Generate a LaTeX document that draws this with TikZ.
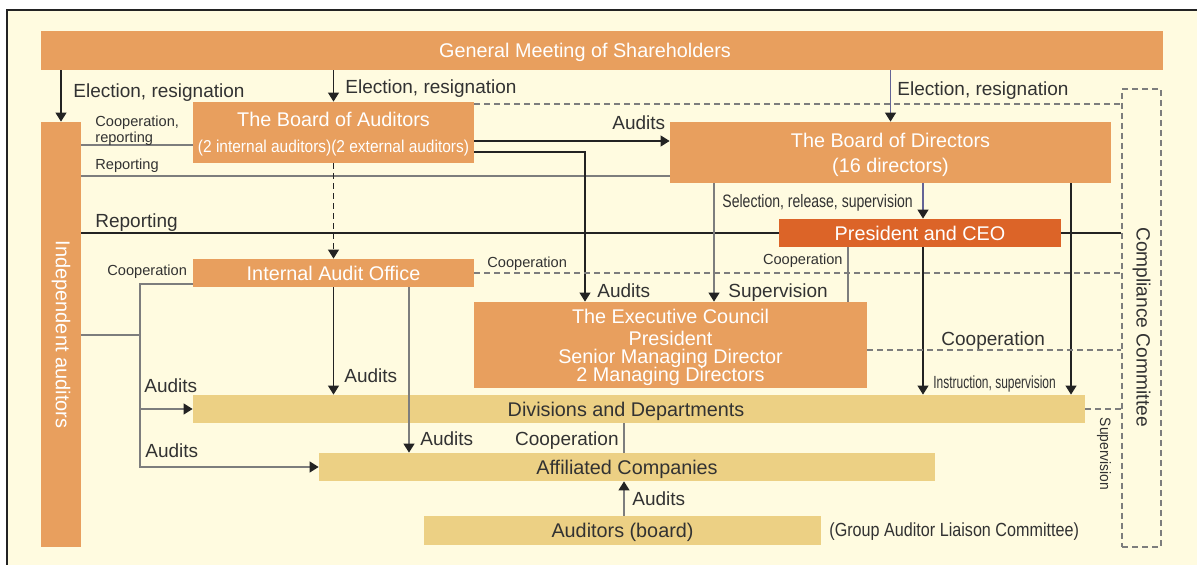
\documentclass[tikz,border=0pt]{standalone}
\usepackage{fontspec}
\setmainfont{Liberation Sans}
\usetikzlibrary{arrows.meta}
\definecolor{cream}{RGB}{255,251,224}
\definecolor{boxorange}{RGB}{232,159,94}
\definecolor{ceored}{RGB}{220,100,40}
\definecolor{boxyellow}{RGB}{236,208,132}
\definecolor{txtgray}{RGB}{50,50,50}
\definecolor{linegray}{RGB}{125,125,125}
\definecolor{elecblue}{RGB}{100,100,150}
\definecolor{tipcol}{RGB}{35,35,35}
\newcommand{\boxfont}{\fontsize{9.9}{12}\selectfont}
\newcommand{\excfont}{\fontsize{9.9}{9}\selectfont\lineskiplimit=-5pt\relax}
\newcommand{\lblfont}{\fontsize{9.5}{11}\selectfont}
\newcommand{\smlfont}{\fontsize{7.3}{6.5}\selectfont}
\newcommand{\squeezetext}[2]{\scalebox{#1}[1]{#2}}

\begin{document}
\begin{tikzpicture}[x=0.5pt, y=-0.5pt,
    obox/.style={fill=boxorange, text=white, font=\boxfont, inner sep=0pt, align=center, text depth=0pt},
    ybox/.style={fill=boxyellow, text=txtgray, font=\boxfont, inner sep=0pt, text depth=0pt},
    lbl/.style={text=txtgray, font=\lblfont, inner sep=0pt, anchor=base west},
    slbl/.style={lbl, font=\smlfont},
    arr/.style={-{Triangle[length=4.5pt, width=5.5pt, color=tipcol]}},
    bline/.style={draw=tipcol, line width=0.55pt},
    gline/.style={draw=linegray, line width=0.65pt},
    eline/.style={draw=elecblue, line width=0.6pt},
    dline/.style={draw=linegray, line width=0.65pt, dash pattern=on 3pt off 2pt},
    ddline/.style={draw=tipcol, line width=0.55pt, dash pattern=on 3pt off 2pt}]
    \useasboundingbox (0,0) rectangle (1197,565);
    % Background
    \fill[cream] (7,10) rectangle (1197,565);
    \draw[line width=1pt, tipcol] (7,565) -- (7,10) -- (1197,10);

    % Boxes
    \node[obox, minimum width=561pt, minimum height=19.5pt,
        label={[text=white, font=\boxfont, text depth=0pt, xshift=-8.5pt]center:General Meeting of Shareholders}] (gm) at (602,50.5) {};
    \node[fill=boxorange, text=white, inner sep=0pt, minimum width=20pt, minimum height=212.5pt] (indaud) at (61,334.5)
        {\rotatebox{-90}{\fontsize{10}{12}\selectfont Independent auditors}};
    \node[obox, minimum width=140.5pt, minimum height=30.5pt] (boa) at (333.5,132.5)
        {The Board of Auditors\\[1pt]\squeezetext{0.9}{\fontsize{8.6}{9}\selectfont (2 internal auditors)(2 external auditors)}};
    \node[obox, minimum width=220.5pt, minimum height=30.5pt] (bod) at (890.5,152.5)
        {The Board of Directors\\[0.5pt](16 directors)};
    \node[obox, fill=ceored, minimum width=141pt, minimum height=14pt] (ceo) at (920,233) {President and CEO};
    \node[obox, minimum width=140.5pt, minimum height=14pt] (iao) at (333.5,273) {Internal Audit Office};
    \node[obox, font=\excfont, minimum width=196.5pt, minimum height=43pt] (exc) at (670.5,345)
        {The Executive Council\\[2pt]President\\Senior Managing Director\\2 Managing Directors};
    \node[ybox, minimum width=446pt, minimum height=14pt,
        label={[text=txtgray, font=\boxfont, text depth=0pt, xshift=-6.5pt]center:Divisions and Departments}] (div) at (639,409) {};
    \node[ybox, minimum width=308pt, minimum height=14pt] (aff) at (627,467) {Affiliated Companies};
    \node[ybox, minimum width=198.5pt, minimum height=14.5pt] (aub) at (622.5,530.5) {Auditors (board)};
    \node[dline, minimum width=19.5pt, minimum height=229pt, inner sep=0pt,
        label={[text=txtgray, font=\fontsize{9.6}{11}\selectfont, yshift=-4.5pt]center:\rotatebox{-90}{Compliance Committee}}] (comp) at (1141.5,318) {};

    % Election
    \draw[bline, arr] (gm.south -| indaud.north) -- (indaud.north);
    \draw[bline, arr] (gm.south -| boa.north) -- (boa.north);
    \draw[eline, arr] (gm.south -| bod.north) -- (bod.north);
    \node[lbl] (lElecA) at (73,98) {Election, resignation};
    \node[lbl] (lElecB) at (345,94) {Election, resignation};
    \node[lbl] (lElecC) at (897,96) {Election, resignation};

    % Board of Auditors
    \draw[dline] (boa.east |- 0,104) -- (comp.west |- 0,104);
    \draw[gline] (indaud.east |- 0,145) -- (boa.west |- 0,145);
    \draw[gline] (indaud.east |- 0,176) -- (bod.west |- 0,176);
    \draw[bline, arr] (boa.east |- 0,141) -- (bod.west |- 0,141);
    \draw[bline, arr] (boa.east |- 0,152) -| (585,0 |- exc.north);
    \draw[ddline, arr] (boa.south) -- (iao.north);
    \node[slbl, anchor=north west, align=left] (lCoopRep) at (95,116) {Cooperation,\\reporting};
    \node[slbl] (lRepA) at (95,170) {Reporting};
    \node[lbl] (lAudA) at (612,130) {Audits};
    \node[lbl] (lAudB) at (597,298) {Audits};

    % Board of Directors and President
    \draw[bline] (indaud.east |- ceo.west) -- (ceo.west);
    \draw[bline] (ceo.east) -- (ceo.east -| comp.west);
    \draw[eline, arr] (923,0 |- bod.south) -- (923,0 |- ceo.north);
    \draw[gline, arr] (714,0 |- bod.south) -- (714,0 |- exc.north);
    \draw[bline, arr] (1071,0 |- bod.south) -- (1071,0 |- div.north);
    \draw[bline, arr] (923,0 |- ceo.south) -- (923,0 |- div.north);
    \draw[gline] (848,0 |- ceo.south) -- (848,0 |- exc.north);
    \node[lbl] (lRepB) at (95,228) {Reporting};
    \node[lbl, font=\fontsize{9}{10}\selectfont] (lSel) at (722,208) {\squeezetext{0.78}{Selection, release, supervision}};
    \node[slbl, anchor=base east] (lCoopA) at (843,265) {Cooperation};
    \node[lbl] (lSupA) at (728,298) {Supervision};
    \node[lbl, font=\fontsize{8.8}{10}\selectfont] (lInst) at (933,389) {\squeezetext{0.68}{Instruction, supervision}};

    % Compliance Committee
    \draw[dline] (iao.east) -- (iao.east -| comp.west);
    \draw[dline] (exc.east |- 0,350) -- (comp.west |- 0,350);
    \draw[dline] (div.east) -- (div.east -| comp.west);
    \node[slbl] (lCoopB) at (487,268) {Cooperation};
    \node[lbl] (lCoopD) at (941,346) {Cooperation};
    \node[slbl, anchor=center, font=\fontsize{7.5}{9}\selectfont] (lSupB) at (1104,454) {\rotatebox{-90}{\squeezetext{0.92}{Supervision}}};

    % Audits of divisions and affiliates
    \draw[gline] (indaud.east |- 0,335) -- (140,335);
    \draw[gline, arr] (iao.west |- 0,284) -| (140,0 |- aff.west) -- (aff.west);
    \draw[gline, arr] (140,0 |- div.west) -- (div.west);
    \draw[bline, arr] (iao.south) -- (iao.south |- div.north);
    \draw[gline, arr] (409,0 |- iao.south) -- (409,0 |- aff.north);
    \draw[gline] (624,0 |- div.south) -- (624,0 |- aff.north);
    \draw[gline, arr] (aub.north -| 624,0) -- (aff.south -| 624,0);
    \node[slbl] (lCoopC) at (107,276) {Cooperation};
    \node[lbl] (lAudC) at (344,383) {Audits};
    \node[lbl] (lAudD) at (144,393) {Audits};
    \node[lbl] (lAudE) at (420,446) {Audits};
    \node[lbl, anchor=base east] (lCoopE) at (619,446) {Cooperation};
    \node[lbl] (lAudF) at (145,458) {Audits};
    \node[lbl] (lAudG) at (632,506) {Audits};
    \node[lbl] (lGroup) at (829,537) {\squeezetext{0.85}{(Group Auditor Liaison Committee)}};
\end{tikzpicture}
\end{document}
